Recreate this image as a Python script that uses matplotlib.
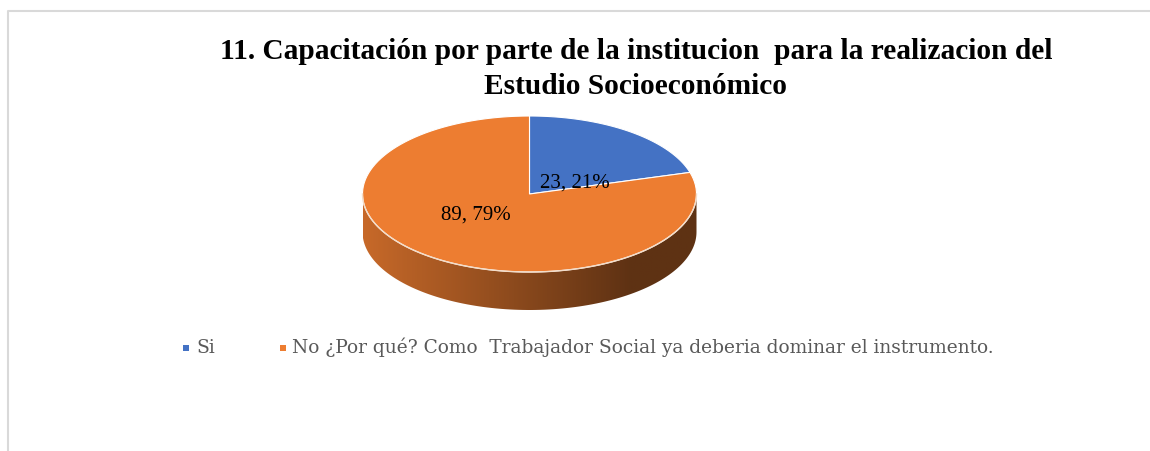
import numpy as np
import matplotlib.pyplot as plt
from matplotlib.patches import Polygon
from matplotlib.colors import to_rgb

# Data
categories = ['Si', 'No ¿Por qué? Como  Trabajador Social ya deberia dominar el instrumento.']
values = [23, 89]
colors = ['#4472C4', '#ED7D31']
title_lines = ['11. Capacitación por parte de la institucion  para la realizacion del',
               'Estudio Socioeconómico']

W, H = 1150, 451
fig = plt.figure(figsize=(W / 100, H / 100), dpi=100)
ax = fig.add_axes([0, 0, 1, 1])
ax.set_xlim(0, W)
ax.set_ylim(H, 0)
ax.axis('off')

serif = ['Liberation Serif', 'DejaVu Serif']

# chart frame (cut at right and bottom)
ax.plot([7.5, 7.5, W], [H, 10.5, 10.5], color='#d9d9d9', lw=1.5, solid_capstyle='butt')

# pie geometry
cx, cy, rx, ry, depth = 529.5, 194, 167, 78, 38


def pt(theta, dy=0):
    t = np.radians(theta)
    return cx + rx * np.cos(t), cy - ry * np.sin(t) + dy


def arc(a, b, dy=0, n=120):
    th = np.linspace(a, b, n)
    x, y = pt(th, dy)
    return np.column_stack([x, y])


total = sum(values)
fracs = [v / total for v in values]
starts = 90 - 360 * np.concatenate([[0], np.cumsum(fracs)[:-1]])
ends = starts - 360 * np.array(fracs)

# side walls (front half only), gradient shaded
gx = np.linspace(cx - rx, cx + rx, 400)
shade = np.interp(gx, [cx - rx, cx + 100, cx + rx], [0.84, 0.40, 0.40])
for s, e, c in zip(starts, ends, colors):
    for k in (-360, 0, 360):
        lo, hi = max(e, k - 180), min(s, k)
        if hi <= lo:
            continue
        top = arc(hi, lo)
        bot = arc(lo, hi, dy=depth)
        poly = Polygon(np.vstack([top, bot]), closed=True, facecolor='none', edgecolor='none')
        ax.add_patch(poly)
        rgb = np.array(to_rgb(c))
        img = (shade[:, None] * rgb[None, :])[None, :, :]
        im = ax.imshow(img, extent=(cx - rx, cx + rx, cy + ry + depth, cy - ry),
                       aspect='auto', interpolation='bilinear', zorder=1)
        im.set_clip_path(poly)

# top face
for s, e, c in zip(starts, ends, colors):
    verts = np.vstack([[cx, cy], arc(s, e)])
    ax.add_patch(Polygon(verts, closed=True, facecolor=c, edgecolor='white', lw=0.8, zorder=2))
rim = arc(180, 360)
ax.plot(rim[:, 0], rim[:, 1], color='#f3dcc8', lw=1, zorder=3)

# data labels
offsets = [(0, 17), (-8, -7)]
for s, e, v, f, (ox, oy) in zip(starts, ends, values, fracs, offsets):
    mid = (s + e) / 2
    t = np.radians(mid)
    lx = cx + 0.45 * rx * np.cos(t) + ox
    ly = cy - 0.45 * ry * np.sin(t) + oy
    ax.text(lx, ly, f'{v}, {round(f * 100)}%', ha='center', va='center',
            fontsize=15, family=serif, color='black', zorder=4)

# title
for line, yb in zip(title_lines, [59, 94]):
    ax.text(636, yb, line, ha='center', va='baseline', fontsize=21.2, fontweight='bold',
            family=serif)

# legend
leg_x = [186, 282.5]
for x0, c, lab in zip(leg_x, colors, categories):
    ax.scatter([x0], [347.5], marker='s', s=25, color=c, linewidths=0, zorder=4)
    ax.text(x0 + 10, 353, lab, ha='left', va='baseline', fontsize=13.4,
            family=['DejaVu Serif'], color='#595959')

fig.savefig('out.png', dpi=100)
